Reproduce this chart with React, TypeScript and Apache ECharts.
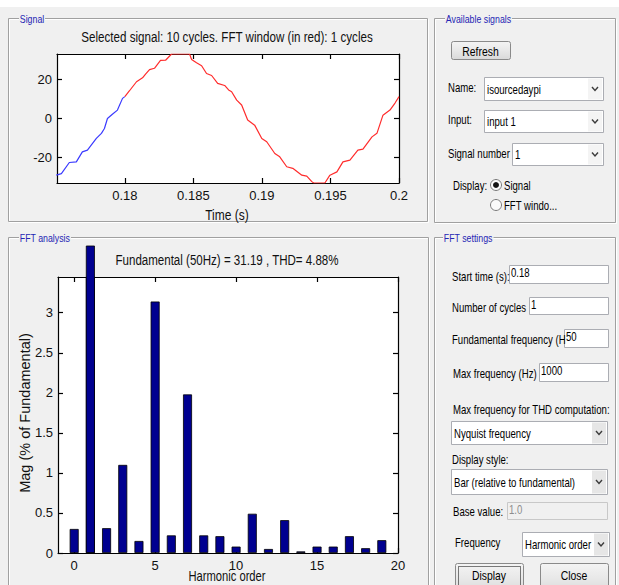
import React, { useEffect, useRef } from "react";
import * as echarts from "echarts";

// ---------- data ----------
const signalTitle = "Selected signal: 10 cycles. FFT window (in red): 1 cycles";
const fftTitle = "Fundamental (50Hz) = 31.19 , THD= 4.88%";
const timeTicks = [0.18, 0.185, 0.19, 0.195, 0.2];
const signalTicks = [-20, 0, 20];
const harmonicTicks = [0, 5, 10, 15, 20];
const magTicks = [0, 0.5, 1, 1.5, 2, 2.5, 3];

const harmonicOrders = [0, 1, 2, 3, 4, 5, 6, 7, 8, 9, 10, 11, 12, 13, 14, 15, 16, 17, 18, 19];
const harmonicMag = [0.30, 100, 0.31, 1.10, 0.15, 3.14, 0.22, 1.98, 0.22, 0.21, 0.08, 0.49, 0.05, 0.41, 0.02, 0.08, 0.08, 0.21, 0.06, 0.16];

// signal before the FFT window (blue)
const preTime = [0.175, 0.17537, 0.17595, 0.17646, 0.1769, 0.17727, 0.17792, 0.17829, 0.17851, 0.17873, 0.17909, 0.17946, 0.17983, 0.18];
const preValue = [-29.2, -28.4, -22.7, -22.4, -17.3, -16.4, -10.4, -7.8, -5.3, -0.2, 2.0, 4.1, 10.1, 11.0];

// signal inside the FFT window (red)
const winTime = [0.18, 0.18034, 0.18085, 0.18129, 0.18151, 0.1818, 0.18216, 0.1826, 0.18297, 0.18341, 0.18472, 0.18487, 0.18523, 0.1856, 0.18596, 0.18633, 0.18677, 0.18728, 0.18757, 0.18779, 0.18816, 0.18852, 0.18896, 0.18947, 0.18999, 0.19035, 0.19094, 0.1913, 0.19181, 0.19225, 0.19291, 0.19327, 0.19364, 0.19378, 0.19459, 0.19496, 0.19547, 0.19591, 0.19642, 0.197, 0.19737, 0.19803, 0.19839, 0.19883, 0.19934, 0.19971, 0.2];
const winValue = [11.0, 14.0, 18.6, 20.6, 22.5, 24.8, 25.5, 29.5, 29.6, 32.8, 32.8, 30.0, 28.3, 26.8, 22.8, 21.8, 17.8, 16.7, 14.4, 13.5, 9.2, 6.7, -1.0, -3.6, -10.4, -12.1, -18.1, -19.8, -24.9, -25.7, -29.2, -29.7, -32.5, -33.2, -33.2, -29.2, -27.5, -22.4, -21.5, -16.4, -15.9, -9.6, -7.8, 1.5, 4.1, 7.7, 11.0];

// ---------- styling ----------
const FONT = "'Liberation Sans', Arial, Helvetica, sans-serif";
const BG = "#f0f0f0";
const PANEL_BLUE = "#2626b4";
const SX = 0.8; // horizontal condensation of the GUI's texts

function buildGraphics() {
  const G: any[] = [];
  const txt = (x: number, y: number, text: string, o: any = {}) =>
    G.push({
      type: "text",
      x,
      y,
      rotation: o.rot || 0,
      scaleX: o.sx === undefined ? SX : o.sx,
      z: o.z || 20,
      style: {
        text,
        fill: o.fill || "#000",
        fontSize: o.size || 12,
        fontFamily: FONT,
        textAlign: o.align || "left",
        textVerticalAlign: "middle",
        backgroundColor: o.bg,
        padding: o.pad,
      },
    });
  const rect = (x: number, y: number, w: number, h: number, fill: any, stroke: string, o: any = {}) =>
    G.push({
      type: "rect",
      z: o.z || 10,
      shape: { x, y, width: w, height: h, r: o.r || 0 },
      style: { fill, stroke, lineWidth: 1, lineDash: o.dash },
    });

  // white strip at the very top
  rect(0, 0, 619, 7, "#ffffff", "none", { z: 1 });

  const panel = (x1: number, y1: number, x2: number, y2: number, title: string, tx: number) => {
    rect(x1 + 1.5, y1 + 1.5, x2 - x1, y2 - y1, "none", "#ffffff", { z: 5 });
    rect(x1 + 0.5, y1 + 0.5, x2 - x1, y2 - y1, "none", "#a0a0a0", { z: 6 });
    txt(tx, y1 + 1, title, { fill: PANEL_BLUE, size: 11, bg: BG, pad: [0, 1], z: 8 });
  };
  panel(8, 18, 427, 221, "Signal", 19);
  panel(434, 18, 615, 222, "Available signals", 445);
  panel(8, 237, 428, 640, "FFT analysis", 19);
  panel(434, 237, 615, 640, "FFT settings", 443);

  const btnFill = new echarts.graphic.LinearGradient(0, 0, 0, 1, [
    { offset: 0, color: "#f4f4f4" },
    { offset: 0.5, color: "#e8e8e8" },
    { offset: 1, color: "#d9d9d9" },
  ]);
  const button = (x: number, y: number, w: number, h: number, label: string, focus = false, ty?: number) => {
    rect(x + 0.5, y + 0.5, w, h, btnFill, "#8a8a8a", { r: 2 });
    if (focus) rect(x + 3.5, y + 3.5, w - 6, h - 6, "none", "#000", { dash: [1, 1], z: 11 });
    txt(x + w / 2, ty === undefined ? y + h / 2 + 1 : ty, label, { align: "center", size: 13 });
  };
  const box = (x: number, y: number, w: number, h: number, label: string, disabled = false) => {
    rect(x + 0.5, y + 0.5, w, h, disabled ? "#f0f0f0" : "#ffffff", disabled ? "#c8c8c8" : "#abadb3");
    txt(x + 2, y + 8, label, { fill: disabled ? "#8d8d8d" : "#000", size: 12 });
  };
  const dropdown = (x: number, y: number, w: number, h: number, label: string, arrowBg: string) => {
    rect(x + 0.5, y + 0.5, w, h, "#ffffff", "#abadb3");
    rect(x + w - 15, y + 1.5, 14, h - 2, arrowBg, "none", { z: 11 });
    const cx = x + w - 8;
    const cy = y + h / 2 + 0.5;
    G.push({
      type: "polyline",
      z: 12,
      shape: { points: [[cx - 3, cy - 2], [cx, cy + 1.5], [cx + 3, cy - 2]] },
      style: { stroke: "#3c3c3c", lineWidth: 1.4, fill: "none" },
    });
    txt(x + 3, y + h / 2 + 1, label, { size: 12 });
  };
  const radio = (cx: number, cy: number, on: boolean) => {
    G.push({ type: "circle", z: 11, shape: { cx, cy, r: 5.5 }, style: { fill: "#fafafa", stroke: "#7a7a7a", lineWidth: 1 } });
    if (on) G.push({ type: "circle", z: 12, shape: { cx, cy, r: 3 }, style: { fill: "#141414" } });
  };

  // Available signals
  button(451, 41, 59, 18, "Refresh");
  txt(448, 88, "Name:");
  dropdown(484, 77, 119, 23, "isourcedaypi", "#f4f4f4");
  txt(448, 120, "Input:");
  dropdown(484, 110, 119, 22, "input 1", "#f4f4f4");
  txt(448, 154, "Signal number");
  dropdown(512, 143, 91, 22, "1", "#f4f4f4");
  txt(453, 186, "Display:");
  radio(496, 185, true);
  txt(504, 186, "Signal");
  radio(496, 205, false);
  txt(504, 206, "FFT windo...");

  // FFT settings
  txt(452, 277, "Start time (s):");
  box(509, 265, 99, 18, "0.18");
  txt(452, 308, "Number of cycles");
  box(529, 297, 79, 17, "1");
  txt(452, 340, "Fundamental frequency (H");
  box(564, 329, 44, 18, "50");
  txt(453, 374, "Max frequency (Hz)");
  box(539, 363, 69, 18, "1000");
  txt(453, 410, "Max frequency for THD computation:");
  dropdown(451, 421, 156, 23, "Nyquist frequency", "#e6e6e6");
  txt(452, 460, "Display style:");
  dropdown(451, 469, 156, 25, "Bar (relative to fundamental)", "#e6e6e6");
  txt(453, 512, "Base value:");
  box(507, 502, 100, 17, "1.0", true);
  txt(455, 543, "Frequency");
  dropdown(522, 532, 87, 24, "Harmonic order", "#e6e6e6");
  button(455, 563, 68, 30, "Display", true, 575);
  button(540, 563, 68, 30, "Close", false, 575);

  // plot titles and axis names
  txt(227, 37, signalTitle, { align: "center", size: 15, fill: "#111", sx: 0.775 });
  txt(227, 215, "Time (s)", { align: "center", size: 15, fill: "#111", sx: 0.8 });
  txt(227, 260, fftTitle, { align: "center", size: 15, fill: "#111", sx: 0.77 });
  txt(25, 413, "Mag (% of Fundamental)", { align: "center", size: 14.5, fill: "#111", rot: Math.PI / 2, sx: 1 });
  txt(227, 577, "Harmonic order", { align: "center", size: 14, fill: "#111", sx: 0.8 });

  return G;
}

const axisLineStyle = { color: "#000", width: 1.2 };
const labelStyle = { fontFamily: FONT, fontSize: 13, color: "#111" };

function xAxis(gridIndex: number, min: number, max: number, ticks: number[], position: string, showLabel: boolean, show = true) {
  return {
    type: "value",
    gridIndex,
    min,
    max,
    position,
    show,
    axisLine: { show: true, onZero: false, lineStyle: axisLineStyle },
    axisTick: { show: true, inside: true, length: 5, customValues: ticks, lineStyle: axisLineStyle },
    axisLabel: { show: showLabel, customValues: ticks, margin: 6, ...labelStyle },
    splitLine: { show: false },
  };
}
function yAxis(gridIndex: number, min: number, max: number, ticks: number[], position: string, showLabel: boolean, show = true) {
  return {
    type: "value",
    gridIndex,
    min,
    max,
    position,
    show,
    axisLine: { show: true, onZero: false, lineStyle: axisLineStyle },
    axisTick: { show: true, inside: true, length: 5, customValues: ticks, lineStyle: axisLineStyle },
    axisLabel: { show: showLabel, customValues: ticks, margin: 5, ...labelStyle },
    splitLine: { show: false },
  };
}

export default function App() {
  const ref = useRef<HTMLDivElement>(null);
  useEffect(() => {
    if (!ref.current) return;
    const chart = echarts.init(ref.current, undefined, { renderer: "svg" });
    const tMin = 0.17505;
    const tMax = 0.2;
    const sMin = -33.2;
    const sMax = 32.8;
    const hMin = -1;
    const hMax = 20;
    const mMax = 3.446;
    const mMaxOverflow = (mMax * 307) / 276;

    chart.setOption({
      animation: false,
      backgroundColor: BG,
      grid: [
        { left: 57, top: 54, width: 342, height: 129, show: true, backgroundColor: "#fff", borderWidth: 0 },
        { left: 58, top: 277, width: 340, height: 276, show: true, backgroundColor: "#fff", borderWidth: 0 },
        { left: 58, top: 246, width: 340, height: 307, show: false },
      ],
      xAxis: [
        xAxis(0, tMin, tMax, timeTicks, "bottom", true),
        xAxis(0, tMin, tMax, timeTicks, "top", false),
        xAxis(1, hMin, hMax, harmonicTicks, "bottom", true),
        xAxis(1, hMin, hMax, harmonicTicks, "top", false),
        xAxis(2, hMin, hMax, harmonicTicks, "bottom", false, false),
      ],
      yAxis: [
        yAxis(0, sMin, sMax, signalTicks, "left", true),
        yAxis(0, sMin, sMax, signalTicks, "right", false),
        yAxis(1, 0, mMax, magTicks, "left", true),
        yAxis(1, 0, mMax, magTicks, "right", false),
        yAxis(2, 0, mMaxOverflow, magTicks, "left", false, false),
      ],
      graphic: { elements: buildGraphics() },
      series: [
        {
          type: "line",
          xAxisIndex: 0,
          yAxisIndex: 0,
          data: preTime.map((t, i) => [t, preValue[i]]),
          symbol: "none",
          lineStyle: { color: "#3a3aff", width: 1.2 },
          clip: true,
        },
        {
          type: "line",
          xAxisIndex: 0,
          yAxisIndex: 0,
          data: winTime.map((t, i) => [t, winValue[i]]),
          symbol: "none",
          lineStyle: { color: "#ff2c2c", width: 1.2 },
          clip: true,
        },
        {
          type: "bar",
          xAxisIndex: 2,
          yAxisIndex: 2,
          data: harmonicOrders.map((h, i) => [h, harmonicMag[i]]),
          barWidth: 9,
          itemStyle: { color: "#000090", borderColor: "#000", borderWidth: 0.8 },
          clip: true,
        },
        {
          type: "bar",
          xAxisIndex: 4,
          yAxisIndex: 4,
          data: [[harmonicOrders[1], harmonicMag[1]]],
          barWidth: 9,
          itemStyle: { color: "#000090", borderColor: "#000", borderWidth: 0.8 },
          clip: true,
        },
      ],
    });
    return () => chart.dispose();
  }, []);
  return (
    <div
      ref={ref}
      style={{ position: "fixed", left: 0, top: 0, width: 619, height: 585, background: BG }}
    />
  );
}
